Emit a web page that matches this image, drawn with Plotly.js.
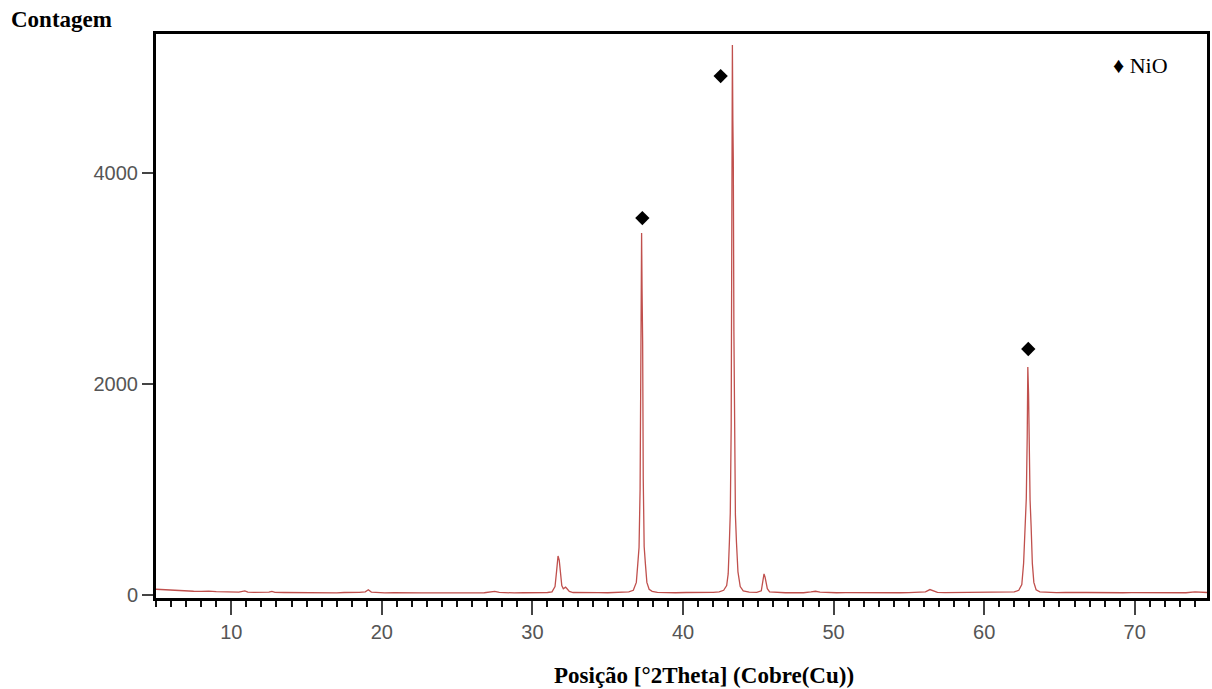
<!DOCTYPE html>
<html>
<head>
<meta charset="utf-8">
<script src="https://cdn.plot.ly/plotly-3.0.1.min.js"></script>
<style>html,body{margin:0;padding:0;background:#fff;}#chart{width:1212px;height:689px;}</style>
</head>
<body>
<div id="chart"></div>
<script>
// 2Theta positions (degrees) and counts
const twoTheta = [
  5.0,5.5,6.0,6.5,7.0,7.5,8.0,8.5,9.0,9.5,10.0,10.5,10.9,11.1,11.5,12.0,12.5,12.7,12.9,13.5,
  14.0,14.5,15.0,15.5,16.0,16.5,17.0,17.5,18.0,18.5,18.9,19.1,19.3,19.7,20.2,20.8,21.4,22.0,22.6,23.2,
  23.8,24.4,25.0,25.6,26.2,26.8,27.2,27.5,27.8,28.2,28.8,29.4,30.0,30.5,31.0,31.3,31.5,31.6,31.7,31.78,
  31.85,31.95,32.05,32.2,32.3,32.45,32.7,33.2,33.8,34.4,35.0,35.5,36.0,36.4,36.7,36.9,37.0,37.08,37.15,37.2,
  37.25,37.28,37.32,37.36,37.42,37.5,37.6,37.75,37.95,38.3,38.8,39.5,40.2,40.8,41.4,42.0,42.4,42.7,42.9,43.0,
  43.08,43.14,43.2,43.24,43.28,43.31,43.34,43.38,43.42,43.48,43.55,43.65,43.8,44.0,44.4,44.9,45.2,45.3,45.38,45.45,
  45.52,45.6,45.75,46.2,46.8,47.4,48.0,48.5,48.8,49.1,49.6,50.2,50.8,51.4,52.0,52.6,53.2,53.8,54.4,55.0,
  55.6,56.1,56.4,56.6,56.9,57.4,58.0,58.6,59.2,59.8,60.4,61.0,61.6,62.0,62.3,62.5,62.62,62.72,62.8,62.86,
  62.9,62.95,63.0,63.05,63.12,63.2,63.3,63.45,63.7,64.2,64.8,65.4,66.0,66.2,66.8,67.4,68.0,68.6,69.2,69.8,
  70.4,71.0,71.6,72.2,72.8,73.4,74.0,74.4,74.8
];
const counts = [
  55,50,46,42,38,36,34,38,32,30,28,27,40,28,26,25,27,35,25,24,
  23,25,22,24,22,23,21,24,22,25,30,50,28,22,21,23,20,22,20,21,
  20,22,20,21,20,22,30,35,25,21,20,22,21,22,24,30,80,220,370,330,
  200,90,60,75,60,35,24,22,21,23,22,24,25,30,45,120,300,450,1000,1900,
  3431,2900,2400,1100,460,300,120,55,35,26,23,22,24,23,24,26,30,45,90,200,
  500,780,1600,3700,5213,4500,4123,2500,1200,760,500,220,80,40,28,25,40,120,200,170,
  110,60,30,24,22,23,22,30,36,28,23,22,23,22,21,23,22,24,22,23,
  24,30,52,40,26,23,24,22,23,25,24,25,26,30,45,100,300,750,920,1500,
  2161,1900,1090,900,650,300,120,50,30,25,23,24,30,26,24,22,23,24,22,23,
  22,24,22,23,24,22,30,26,24
];
// NiO reflection markers
const nioX = [37.3, 42.5, 62.93];
const nioY = [3573, 4919, 2332];
const xTickVals = [10, 20, 30, 40, 50, 60, 70];
const yTickVals = [0, 2000, 4000];

const traces = [
  {x: twoTheta, y: counts, type: 'scatter', mode: 'lines',
   line: {color: '#c0504d', width: 1.3}, hoverinfo: 'x+y', showlegend: false},
  {x: nioX, y: nioY, type: 'scatter', mode: 'markers',
   marker: {symbol: 'diamond', size: 11, color: '#000'}, showlegend: false}
];

const tickFont = {family: 'Liberation Sans, Arial, sans-serif', size: 20, color: '#555'};
const serifBold = {family: 'Liberation Serif, Times New Roman, serif', size: 23, color: '#000'};

const layout = {
  width: 1212, height: 689,
  paper_bgcolor: '#fff', plot_bgcolor: '#fff',
  margin: {l: 156, r: 5, t: 34, b: 91},
  title: {text: '<b>Contagem</b>', font: serifBold, x: 11/1212, xanchor: 'left', xref: 'container',
          y: 1 - 19/689, yanchor: 'middle', yref: 'container'},
  xaxis: {
    range: [5, 74.8], tickvals: xTickVals, ticktext: xTickVals.map(String),
    ticks: 'outside', ticklen: 14, tickwidth: 2, tickcolor: '#444',
    minor: {dtick: 1, tick0: 0, ticks: 'outside', ticklen: 6, tickwidth: 2, tickcolor: '#111'},
    showline: true, linecolor: '#000', linewidth: 3, mirror: true,
    showgrid: false, zeroline: false, tickfont: tickFont
  },
  yaxis: {
    range: [-28, 5318], tickvals: yTickVals, ticktext: yTickVals.map(String),
    ticks: 'outside', ticklen: 11, tickwidth: 2, tickcolor: '#444',
    showline: true, linecolor: '#000', linewidth: 3, mirror: true,
    showgrid: false, zeroline: false, tickfont: tickFont
  },
  annotations: [
    {text: '<b>Posição [°2Theta] (Cobre(Cu))</b>', xref: 'paper', yref: 'paper',
     x: (704-156)/1051, y: (598-675)/564, xanchor: 'center', yanchor: 'middle',
     showarrow: false, font: serifBold},
    {text: '♦ NiO', xref: 'paper', yref: 'paper', x: (1111-156)/1051, y: (598-66)/564,
     xanchor: 'left', yanchor: 'middle', showarrow: false,
     font: {family: 'Liberation Serif, Times New Roman, serif', size: 22, color: '#000'}}
  ],
  showlegend: false
};

Plotly.newPlot('chart', traces, layout, {displayModeBar: false, staticPlot: true});
</script>
</body>
</html>
